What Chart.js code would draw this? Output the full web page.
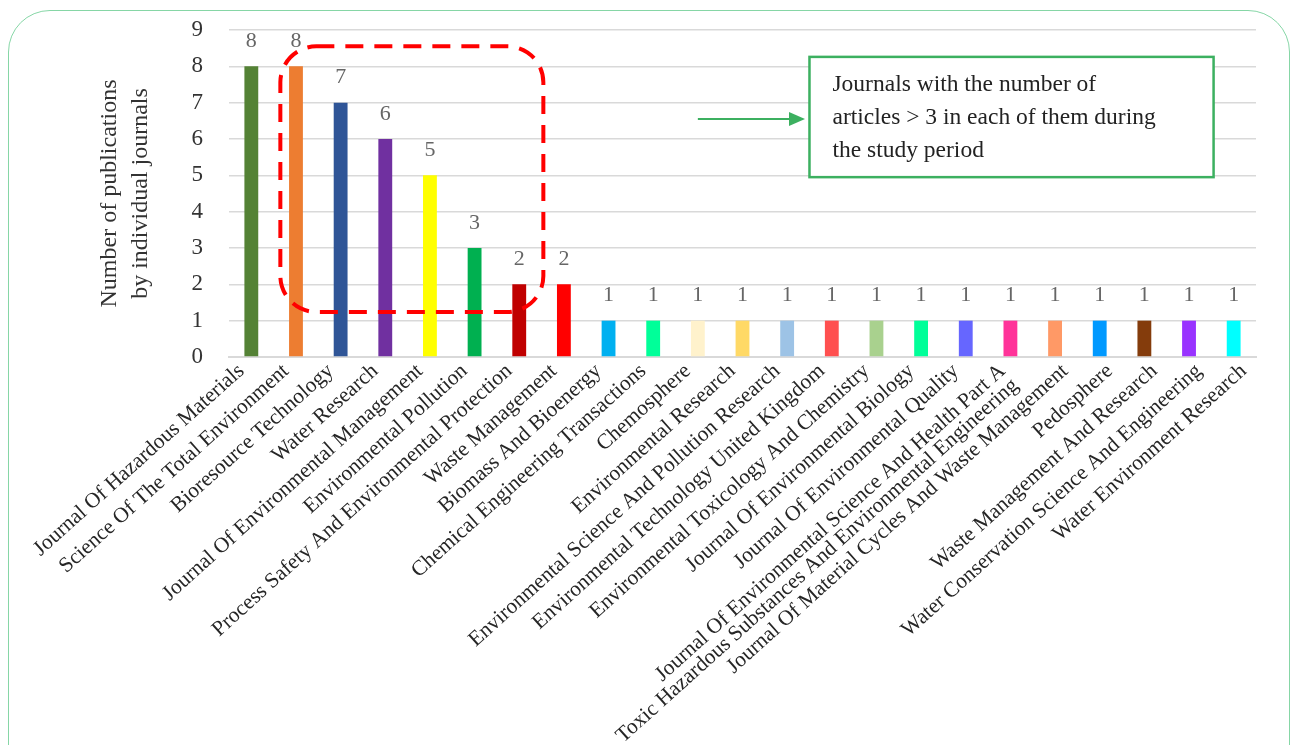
<!DOCTYPE html>
<html>
<head>
<meta charset="utf-8">
<script src="https://cdn.jsdelivr.net/npm/chart.js@4.4.1/dist/chart.umd.min.js"></script>
<style>
  html, body { margin: 0; padding: 0; background: #fff; }
  #wrap { position: relative; width: 1294px; height: 745px; overflow: hidden; }
  #frame {
    position: absolute; left: 8px; top: 10px; width: 1280px; height: 790px;
    border: 1.5px solid #86d6a6; border-radius: 42px; pointer-events: none;
  }
</style>
</head>
<body>
<div id="wrap">
  <canvas id="journalChart" width="1294" height="745"></canvas>
  <div id="frame"></div>
</div>
<script>
const journals = [
    'Journal Of Hazardous Materials',
    'Science Of The Total Environment',
    'Bioresource Technology',
    'Water Research',
    'Journal Of Environmental Management',
    'Environmental Pollution',
    'Process Safety And Environmental Protection',
    'Waste Management',
    'Biomass And Bioenergy',
    'Chemical Engineering Transactions',
    'Chemosphere',
    'Environmental Research',
    'Environmental Science And Pollution Research',
    'Environmental Technology United Kingdom',
    'Environmental Toxicology And Chemistry',
    'Journal Of Environmental Biology',
    'Journal Of Environmental Quality',
    ['Journal Of Environmental Science And Health Part A', 'Toxic Hazardous Substances And Environmental Engineering'],
    'Journal Of Material Cycles And Waste Management',
    'Pedosphere',
    'Waste Management And Research',
    'Water Conservation Science And Engineering',
    'Water Environment Research'
];

const publications = [8, 8, 7, 6, 5, 3, 2, 2, 1, 1, 1, 1, 1, 1, 1, 1, 1, 1, 1, 1, 1, 1, 1];

const barColors = [
    '#548235', '#ed7d31', '#2f5597', '#7030a0', '#ffff00', '#00b050', '#c00000', '#ff0000',
    '#00b0f0', '#00ff99', '#fff2cc', '#ffd966', '#9dc3e6', '#ff5050', '#a9d18e', '#00ff99',
    '#6666ff', '#ff3399', '#ff9966', '#0099ff', '#843c0c', '#9933ff', '#00ffff'
];

const yTitle = ['Number of publications', 'by individual journals'];
const noteLines = ['Journals with the number of', 'articles > 3 in each of them during', 'the study period'];

const serif = '"Liberation Serif", "Times New Roman", serif';

// helper: rounded rectangle path
const roundRectPath = (ctx, x, y, w, h, r) => {
    ctx.beginPath();
    ctx.moveTo(x + r, y);
    ctx.lineTo(x + w - r, y);
    ctx.arcTo(x + w, y, x + w, y + r, r);
    ctx.lineTo(x + w, y + h - r);
    ctx.arcTo(x + w, y + h, x + w - r, y + h, r);
    ctx.lineTo(x + r, y + h);
    ctx.arcTo(x, y + h, x, y + h - r, r);
    ctx.lineTo(x, y + r);
    ctx.arcTo(x, y, x + r, y, r);
    ctx.closePath();
};

// nudge rotated category labels sideways, like the original
// (labels after the two-line one sit a bit right of their tick)
const labelNudge = {
    id: 'labelNudge',
    afterLayout(chart) {
        const items = chart.scales.x.getLabelItems();
        items.forEach((item, i) => {
            item.options.translation[0] += i < 17 ? -10 : (i === 17 ? -8 : 10);
        });
    }
};

const valueLabels = {
    id: 'valueLabels',
    afterDatasetsDraw(chart) {
        const ctx = chart.ctx;
        const meta = chart.getDatasetMeta(0);
        ctx.save();
        ctx.font = '22px ' + serif;
        ctx.fillStyle = '#666666';
        ctx.textAlign = 'center';
        ctx.textBaseline = 'middle';
        meta.data.forEach((bar, i) => {
            ctx.fillText(String(publications[i]), bar.x, bar.y - 25);
        });
        ctx.restore();
    }
};

const notes = {
    id: 'notes',
    afterDraw(chart) {
        const ctx = chart.ctx;
        const xs = chart.scales.x;
        const ys = chart.scales.y;

        // red dashed highlight around the top journals
        const left = xs.getPixelForValue(0.65);
        const right = xs.getPixelForValue(6.54);
        const top = ys.getPixelForValue(8.55);
        const bottom = ys.getPixelForValue(1.24);
        ctx.save();
        ctx.strokeStyle = '#ff0000';
        ctx.lineWidth = 4;
        ctx.setLineDash([18, 11]);
        roundRectPath(ctx, left, top, right - left, bottom - top, 36);
        ctx.stroke();
        ctx.restore();

        // arrow
        const ay = ys.getPixelForValue(6.55);
        const ax0 = xs.getPixelForValue(10.0);
        const ax1 = xs.getPixelForValue(12.4);
        ctx.save();
        ctx.strokeStyle = '#3cb060';
        ctx.fillStyle = '#3cb060';
        ctx.lineWidth = 2;
        ctx.beginPath();
        ctx.moveTo(ax0, ay);
        ctx.lineTo(ax1 - 14, ay);
        ctx.stroke();
        ctx.beginPath();
        ctx.moveTo(ax1, ay);
        ctx.lineTo(ax1 - 16, ay - 7);
        ctx.lineTo(ax1 - 16, ay + 7);
        ctx.closePath();
        ctx.fill();
        ctx.restore();

        // note box
        const bx0 = xs.getPixelForValue(12.5);
        const bx1 = xs.getPixelForValue(21.55);
        const by0 = ys.getPixelForValue(8.26);
        const by1 = ys.getPixelForValue(4.95);
        ctx.save();
        ctx.fillStyle = '#ffffff';
        ctx.fillRect(bx0, by0, bx1 - bx0, by1 - by0);
        ctx.strokeStyle = '#3cb060';
        ctx.lineWidth = 2.5;
        ctx.strokeRect(bx0, by0, bx1 - bx0, by1 - by0);
        ctx.font = '23.5px ' + serif;
        ctx.fillStyle = '#222222';
        ctx.textAlign = 'left';
        ctx.textBaseline = 'middle';
        noteLines.forEach((line, i) => {
            ctx.fillText(line, bx0 + 23, by0 + 28 + i * 33);
        });
        ctx.restore();
    }
};

const ctx1 = document.getElementById('journalChart').getContext('2d');
new Chart(ctx1, {
    type: 'bar',
    data: {
        labels: journals,
        datasets: [{
            data: publications,
            backgroundColor: barColors,
            borderWidth: 0,
            barPercentage: 0.31,
            categoryPercentage: 1.0
        }]
    },
    options: {
        responsive: false,
        animation: false,
        layout: { padding: { top: 30, right: 38, left: 0, bottom: 0 } },
        plugins: {
            legend: { display: false },
            tooltip: { enabled: false }
        },
        scales: {
            x: {
                grid: { display: false, drawTicks: false },
                border: { color: '#d9d9d9', width: 2 },
                ticks: {
                    autoSkip: false,
                    maxRotation: 42,
                    minRotation: 42,
                    padding: 4,
                    color: '#262626',
                    font: { family: serif, size: 21.5, lineHeight: 0.9 }
                },
                afterFit: (scale) => { scale.height = 388; }
            },
            y: {
                min: 0,
                max: 9,
                ticks: {
                    stepSize: 1,
                    padding: 26,
                    color: '#333333',
                    font: { family: serif, size: 23 }
                },
                grid: { color: '#d9d9d9', lineWidth: 1.5, drawTicks: false },
                border: { display: false },
                title: {
                    display: true,
                    text: yTitle,
                    color: '#333333',
                    font: { family: serif, size: 24, lineHeight: 1.3 },
                    padding: { top: 94, bottom: 0 }
                },
                afterFit: (scale) => {
                    scale.width = 229;
                    scale.paddingTop = 12;
                    scale.paddingBottom = 12;
                }
            }
        }
    },
    plugins: [labelNudge, valueLabels, notes]
});
</script>
</body>
</html>
